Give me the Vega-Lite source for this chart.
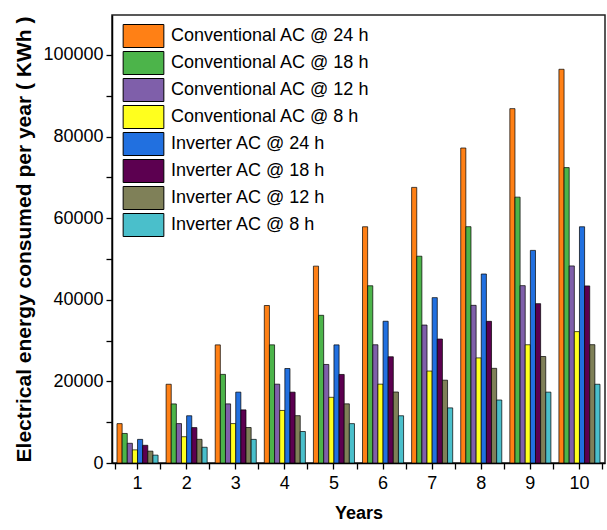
{
  "$schema": "https://vega.github.io/schema/vega-lite/v6.json",
  "width": 493,
  "height": 448,
  "autosize": {"type": "none"},
  "padding": {"left": 112, "top": 15, "right": 2, "bottom": 67},
  "background": "white",
  "config": {
    "view": {"stroke": "#222", "strokeWidth": 1.5},
    "font": "Liberation Sans",
    "axis": {"labelFont": "Liberation Sans", "titleFont": "Liberation Sans", "labelColor": "black", "titleColor": "black", "domainColor": "black", "tickColor": "black", "domainWidth": 1.5, "tickWidth": 1.3, "grid": false}
  },
  "data": {"values": [
    {"year": 1, "s": "Conventional AC @ 24 h", "v": 9650}, {"year": 2, "s": "Conventional AC @ 24 h", "v": 19300}, {"year": 3, "s": "Conventional AC @ 24 h", "v": 28950}, {"year": 4, "s": "Conventional AC @ 24 h", "v": 38600}, {"year": 5, "s": "Conventional AC @ 24 h", "v": 48250}, {"year": 6, "s": "Conventional AC @ 24 h", "v": 57900}, {"year": 7, "s": "Conventional AC @ 24 h", "v": 67550}, {"year": 8, "s": "Conventional AC @ 24 h", "v": 77200}, {"year": 9, "s": "Conventional AC @ 24 h", "v": 86850}, {"year": 10, "s": "Conventional AC @ 24 h", "v": 96500},
    {"year": 1, "s": "Conventional AC @ 18 h", "v": 7240}, {"year": 2, "s": "Conventional AC @ 18 h", "v": 14480}, {"year": 3, "s": "Conventional AC @ 18 h", "v": 21720}, {"year": 4, "s": "Conventional AC @ 18 h", "v": 28960}, {"year": 5, "s": "Conventional AC @ 18 h", "v": 36200}, {"year": 6, "s": "Conventional AC @ 18 h", "v": 43440}, {"year": 7, "s": "Conventional AC @ 18 h", "v": 50680}, {"year": 8, "s": "Conventional AC @ 18 h", "v": 57920}, {"year": 9, "s": "Conventional AC @ 18 h", "v": 65160}, {"year": 10, "s": "Conventional AC @ 18 h", "v": 72400},
    {"year": 1, "s": "Conventional AC @ 12 h", "v": 4830}, {"year": 2, "s": "Conventional AC @ 12 h", "v": 9660}, {"year": 3, "s": "Conventional AC @ 12 h", "v": 14490}, {"year": 4, "s": "Conventional AC @ 12 h", "v": 19320}, {"year": 5, "s": "Conventional AC @ 12 h", "v": 24150}, {"year": 6, "s": "Conventional AC @ 12 h", "v": 28980}, {"year": 7, "s": "Conventional AC @ 12 h", "v": 33810}, {"year": 8, "s": "Conventional AC @ 12 h", "v": 38640}, {"year": 9, "s": "Conventional AC @ 12 h", "v": 43470}, {"year": 10, "s": "Conventional AC @ 12 h", "v": 48300},
    {"year": 1, "s": "Conventional AC @ 8 h", "v": 3220}, {"year": 2, "s": "Conventional AC @ 8 h", "v": 6440}, {"year": 3, "s": "Conventional AC @ 8 h", "v": 9660}, {"year": 4, "s": "Conventional AC @ 8 h", "v": 12880}, {"year": 5, "s": "Conventional AC @ 8 h", "v": 16100}, {"year": 6, "s": "Conventional AC @ 8 h", "v": 19320}, {"year": 7, "s": "Conventional AC @ 8 h", "v": 22540}, {"year": 8, "s": "Conventional AC @ 8 h", "v": 25760}, {"year": 9, "s": "Conventional AC @ 8 h", "v": 28980}, {"year": 10, "s": "Conventional AC @ 8 h", "v": 32200},
    {"year": 1, "s": "Inverter AC @ 24 h", "v": 5790}, {"year": 2, "s": "Inverter AC @ 24 h", "v": 11580}, {"year": 3, "s": "Inverter AC @ 24 h", "v": 17370}, {"year": 4, "s": "Inverter AC @ 24 h", "v": 23160}, {"year": 5, "s": "Inverter AC @ 24 h", "v": 28950}, {"year": 6, "s": "Inverter AC @ 24 h", "v": 34740}, {"year": 7, "s": "Inverter AC @ 24 h", "v": 40530}, {"year": 8, "s": "Inverter AC @ 24 h", "v": 46320}, {"year": 9, "s": "Inverter AC @ 24 h", "v": 52110}, {"year": 10, "s": "Inverter AC @ 24 h", "v": 57900},
    {"year": 1, "s": "Inverter AC @ 18 h", "v": 4340}, {"year": 2, "s": "Inverter AC @ 18 h", "v": 8680}, {"year": 3, "s": "Inverter AC @ 18 h", "v": 13020}, {"year": 4, "s": "Inverter AC @ 18 h", "v": 17360}, {"year": 5, "s": "Inverter AC @ 18 h", "v": 21700}, {"year": 6, "s": "Inverter AC @ 18 h", "v": 26040}, {"year": 7, "s": "Inverter AC @ 18 h", "v": 30380}, {"year": 8, "s": "Inverter AC @ 18 h", "v": 34720}, {"year": 9, "s": "Inverter AC @ 18 h", "v": 39060}, {"year": 10, "s": "Inverter AC @ 18 h", "v": 43400},
    {"year": 1, "s": "Inverter AC @ 12 h", "v": 2900}, {"year": 2, "s": "Inverter AC @ 12 h", "v": 5800}, {"year": 3, "s": "Inverter AC @ 12 h", "v": 8700}, {"year": 4, "s": "Inverter AC @ 12 h", "v": 11600}, {"year": 5, "s": "Inverter AC @ 12 h", "v": 14500}, {"year": 6, "s": "Inverter AC @ 12 h", "v": 17400}, {"year": 7, "s": "Inverter AC @ 12 h", "v": 20300}, {"year": 8, "s": "Inverter AC @ 12 h", "v": 23200}, {"year": 9, "s": "Inverter AC @ 12 h", "v": 26100}, {"year": 10, "s": "Inverter AC @ 12 h", "v": 29000},
    {"year": 1, "s": "Inverter AC @ 8 h", "v": 1930}, {"year": 2, "s": "Inverter AC @ 8 h", "v": 3860}, {"year": 3, "s": "Inverter AC @ 8 h", "v": 5790}, {"year": 4, "s": "Inverter AC @ 8 h", "v": 7720}, {"year": 5, "s": "Inverter AC @ 8 h", "v": 9650}, {"year": 6, "s": "Inverter AC @ 8 h", "v": 11580}, {"year": 7, "s": "Inverter AC @ 8 h", "v": 13510}, {"year": 8, "s": "Inverter AC @ 8 h", "v": 15440}, {"year": 9, "s": "Inverter AC @ 8 h", "v": 17370}, {"year": 10, "s": "Inverter AC @ 8 h", "v": 19300}
  ]},
  "layer": [
    {
      "mark": {"type": "bar", "stroke": "black", "strokeWidth": 0.7},
      "encoding": {
        "x": {"field": "year", "type": "ordinal",
          "scale": {"paddingInner": 0.08, "paddingOuter": 0.06},
          "axis": {"title": "Years", "labelAngle": 0, "labelFontSize": 18, "titleFontSize": 18, "titleFontWeight": "bold", "tickSize": 6, "labelPadding": 5, "titlePadding": 12, "domain": true}},
        "xOffset": {"field": "s", "type": "nominal",
          "sort": ["Conventional AC @ 24 h", "Conventional AC @ 18 h", "Conventional AC @ 12 h", "Conventional AC @ 8 h", "Inverter AC @ 24 h", "Inverter AC @ 18 h", "Inverter AC @ 12 h", "Inverter AC @ 8 h"],
          "scale": {"paddingInner": 0, "paddingOuter": 0.4}},
        "y": {"field": "v", "type": "quantitative",
          "scale": {"domain": [0, 109800], "nice": false, "zero": true},
          "axis": {"title": "Electrical energy consumed per year ( KWh )", "values": [0, 10000, 20000, 30000, 40000, 50000, 60000, 70000, 80000, 90000, 100000], "format": "d", "labelExpr": "datum.value % 20000 === 0 ? datum.label : ''", "labelFontSize": 18, "titleFontSize": 21, "titleFontWeight": "bold", "tickSize": 6, "labelPadding": 3, "titlePadding": 8}},
        "fill": {"field": "s", "type": "nominal",
          "scale": {
            "domain": ["Conventional AC @ 24 h", "Conventional AC @ 18 h", "Conventional AC @ 12 h", "Conventional AC @ 8 h", "Inverter AC @ 24 h", "Inverter AC @ 18 h", "Inverter AC @ 12 h", "Inverter AC @ 8 h"],
            "range": ["#FF8015", "#4CB44A", "#7F5FAA", "#FFFF1E", "#2170E0", "#5C0050", "#7F8058", "#4ABFCB"]},
          "legend": {"title": null, "orient": "none", "legendX": 19.5, "legendY": 9, "padding": 0,
            "symbolType": "M-1.77,-1H1.77V1H-1.77Z", "symbolSize": 529, "symbolStrokeColor": "black", "symbolStrokeWidth": 1, "symbolOpacity": 1,
            "labelFontSize": 18, "labelFont": "Liberation Sans", "labelColor": "black", "labelOffset": 15.5, "labelLimit": 400, "rowPadding": -1}}
      }
    },
    {
      "mark": {"type": "rule", "opacity": 0},
      "encoding": {
        "x": {"field": "year", "type": "ordinal",
          "axis": {"orient": "bottom", "tickBand": "extent", "labels": false, "domain": false, "title": null, "tickSize": 6}}
      }
    }
  ],
  "resolve": {"axis": {"x": "independent"}}
}
